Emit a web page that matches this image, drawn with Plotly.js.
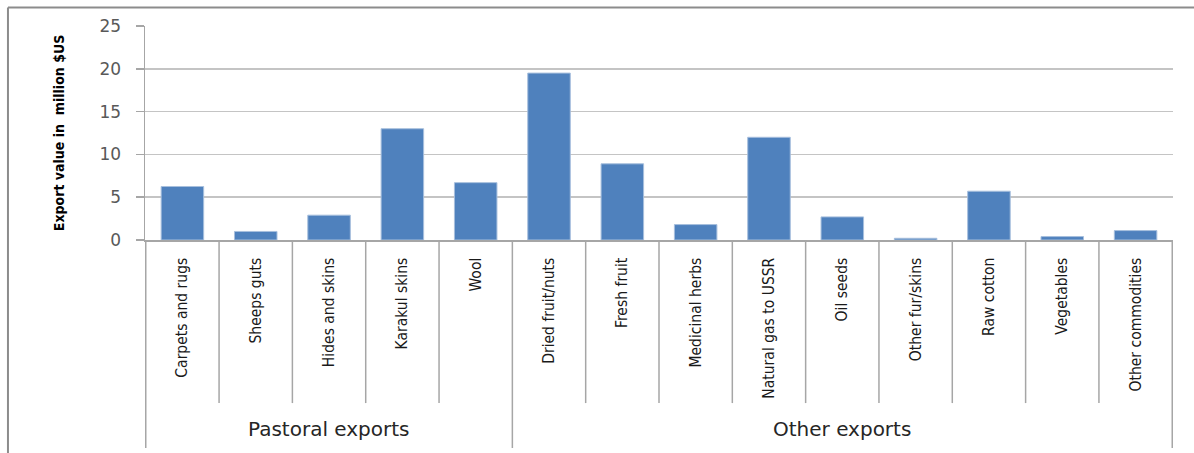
<!DOCTYPE html>
<html>
<head>
<meta charset="utf-8">
<script src="https://cdn.plot.ly/plotly-3.0.1.min.js"></script>
<style>
  html, body { margin: 0; padding: 0; background: #ffffff; }
  #chart { width: 1194px; height: 453px; }
</style>
</head>
<body>
<div id="chart"></div>
<script>
// ---- data ----
const categories = [
  "Carpets and rugs", "Sheeps guts", "Hides and skins", "Karakul skins", "Wool",
  "Dried fruit/nuts", "Fresh fruit", "Medicinal herbs", "Natural gas to USSR",
  "Oil seeds", "Other fur/skins", "Raw cotton", "Vegetables", "Other commodities"
];
const groups = [
  "Pastoral exports", "Pastoral exports", "Pastoral exports", "Pastoral exports", "Pastoral exports",
  "Other exports", "Other exports", "Other exports", "Other exports",
  "Other exports", "Other exports", "Other exports", "Other exports", "Other exports"
];
const exportValues = [6.25, 1.0, 2.9, 13.0, 6.7, 19.5, 8.9, 1.8, 12.0, 2.7, 0.2, 5.7, 0.4, 1.1];
const yTickValues = [0, 5, 10, 15, 20, 25];
const yTitle = "Export value in  million $US";

// ---- build group info from data ----
const groupList = [];
groups.forEach((g, i) => {
  const last = groupList[groupList.length - 1];
  if (last && last.name === g) { last.end = i; }
  else { groupList.push({ name: g, start: i, end: i }); }
});

const narrowFont = "'DejaVu Sans Condensed', 'Roboto Condensed', 'Liberation Sans Narrow', Roboto, sans-serif";
const sepColor = "#a6a6a6";
const shapes = [];
for (let i = 0; i <= categories.length; i++) {
  const b = i - 0.5;
  const isGroupEdge = (i === 0) || (i === categories.length) || (groups[i] !== groups[i - 1]);
  shapes.push({
    type: "line", xref: "x", yref: "paper",
    x0: b, x1: b, y0: 0, y1: isGroupEdge ? -0.972 : -0.762,
    line: { color: sepColor, width: 1.5 }
  });
}
shapes.push({ type: "line", xref: "paper", yref: "paper", x0: -0.1333, x1: -0.1333, y0: 1.086, y1: -1.1,
  line: { color: "#8c8c8c", width: 2 } });
shapes.push({ type: "line", xref: "paper", yref: "paper", x0: -0.1333, x1: 1.03, y0: 1.086, y1: 1.086,
  line: { color: "#8c8c8c", width: 2 } });

const annotations = groupList.map(g => ({
  xref: "x", yref: "paper",
  x: (g.start + g.end) / 2, y: -0.885,
  text: g.name, showarrow: false,
  xanchor: "center", yanchor: "middle",
  font: { family: "DejaVu Sans", size: 20, color: "#262626" }
}));

const trace = {
  type: "bar",
  x: categories,
  y: exportValues,
  marker: { color: "#4f81bd", line: { color: "#a7bfdd", width: 1 } },
  hoverinfo: "x+y"
};

const layout = {
  width: 1194, height: 453,
  margin: { l: 145, r: 21, t: 26, b: 213 },
  paper_bgcolor: "#ffffff",
  plot_bgcolor: "#ffffff",
  showlegend: false,
  bargap: 0.42,
  xaxis: {
    type: "category",
    tickangle: -90,
    ticks: "",
    ticklabelstandoff: 10,
    showline: true, linecolor: sepColor, linewidth: 1.5,
    showgrid: false,
    tickfont: { family: narrowFont, size: 15.5, color: "#1a1a1a" },
    automargin: false
  },
  yaxis: {
    range: [0, 25],
    tickvals: yTickValues,
    ticks: "outside", ticklen: 8, tickcolor: sepColor, tickwidth: 1.5,
    ticklabelstandoff: 11,
    showline: true, linecolor: sepColor, linewidth: 1.5,
    showgrid: true, gridcolor: "#c4c4c4", gridwidth: 1.5,
    zeroline: false,
    tickfont: { family: "DejaVu Sans", size: 17, color: "#595959" },
    title: { text: yTitle, standoff: 31,
      font: { family: narrowFont, size: 14, color: "#000000", weight: "bold" } },
    automargin: false
  },
  shapes: shapes,
  annotations: annotations
};

Plotly.newPlot("chart", [trace], layout, { displayModeBar: false, staticPlot: true });
</script>
</body>
</html>
